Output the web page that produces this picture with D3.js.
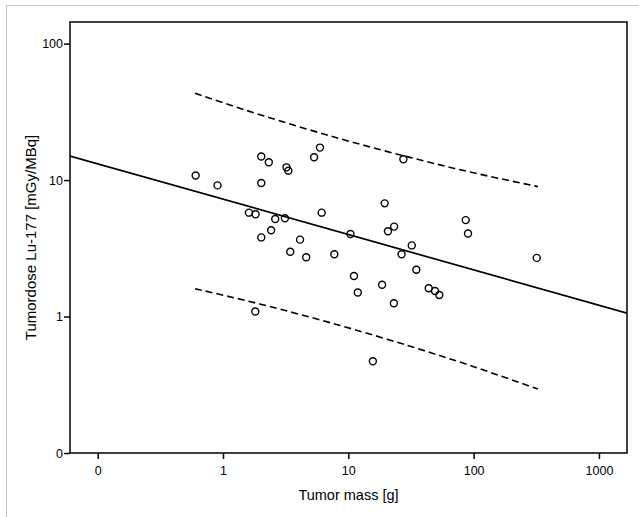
<!DOCTYPE html>
<html>
<head>
<meta charset="utf-8">
<script src="https://cdn.jsdelivr.net/npm/d3@7"></script>
<style>
  body { margin: 0; background: #fff; }
  text { font-family: "Liberation Sans", Arial, sans-serif; fill: #000; }
</style>
</head>
<body>
<svg id="chart" width="639" height="517"></svg>
<script>
// tumor mass [g] vs tumor dose [mGy/MBq]
var massValues = [0.605, 0.904, 2.02, 2.32, 3.21, 3.32, 2.02, 1.61, 1.82, 2.61,
                  3.12, 2.42, 2.02, 4.12, 3.44, 4.61, 5.33, 5.94, 27.5, 19.5,
                  6.13, 10.4, 20.7, 23.2, 32.1, 26.6, 7.73, 86.5, 90.2, 319,
                  11.1, 11.9, 18.6, 23.1, 34.9, 43.8, 49.2, 53.2, 15.7, 1.81];
var doseValues = [10.8, 9.14, 14.9, 13.5, 12.4, 11.7, 9.53, 5.77, 5.62, 5.19,
                  5.25, 4.29, 3.80, 3.66, 2.98, 2.72, 14.7, 17.3, 14.2, 6.75,
                  5.77, 4.03, 4.22, 4.56, 3.32, 2.86, 2.86, 5.09, 4.06, 2.69,
                  1.98, 1.50, 1.71, 1.25, 2.20, 1.61, 1.54, 1.44, 0.470, 1.09];

// regression line end points (read at the plot edges)
var fitMass = [0.0601, 1675];
var fitDose = [15.0, 1.06];

// prediction interval (dashed), sampled along the curve
var bandMass  = [0.598, 2.0, 8.6, 31.6, 100, 326];
var bandUpper = [43.2, 30.0, 20.1, 14.6, 11.3, 8.95];
var bandLower = [1.60, 1.23, 0.86, 0.603, 0.429, 0.294];

var xTickValues = [0.1, 1, 10, 100, 1000];
var xTickLabels = ["0", "1", "10", "100", "1000"];
var yTickValues = [0.1, 1, 10, 100];
var yTickLabels = ["0", "1", "10", "100"];

var svg = d3.select("#chart");
var plotL = 70, plotR = 627, plotT = 22, plotB = 453;

// outer light frame
svg.append("path")
    .attr("d", "M6.5,517V5.5H639")
    .attr("fill", "none")
    .attr("stroke", "#c4c4c4")
    .attr("stroke-width", 1);

var x = d3.scaleLog().domain([0.0601, 1675]).range([plotL, plotR]);
var y = d3.scaleLog().domain([0.1, 144]).range([plotB, plotT]);

var g = svg.append("g");

// plot frame
g.append("rect")
    .attr("x", plotL).attr("y", plotT)
    .attr("width", plotR - plotL).attr("height", plotB - plotT)
    .attr("fill", "none")
    .attr("stroke", "#000")
    .attr("stroke-width", 1.5);

var xAxis = d3.axisBottom(x)
    .tickValues(xTickValues)
    .tickSize(6)
    .tickFormat(function(d, i) { return xTickLabels[i]; });
var yAxis = d3.axisLeft(y)
    .tickValues(yTickValues)
    .tickSize(6)
    .tickFormat(function(d, i) { return yTickLabels[i]; });

var gx = g.append("g").attr("transform", "translate(0," + plotB + ")").call(xAxis);
var gy = g.append("g").attr("transform", "translate(" + plotL + ",0)").call(yAxis);
[gx, gy].forEach(function(a) {
    a.select(".domain").remove();
    a.selectAll(".tick line").attr("stroke", "#000").attr("stroke-width", 1.5);
    a.selectAll(".tick text")
        .style("font-family", "'Liberation Sans', Arial, sans-serif")
        .style("font-size", "12.5px")
        .attr("fill", "#000");
});
gx.selectAll(".tick text").attr("y", 10).attr("dy", "0.95em");
gy.selectAll(".tick text").attr("x", -7);

// clip for the lines
svg.append("clipPath").attr("id", "plotclip")
    .append("rect")
    .attr("x", plotL).attr("y", plotT)
    .attr("width", plotR - plotL).attr("height", plotB - plotT);

var lineGen = d3.line()
    .x(function(d) { return x(d[0]); })
    .y(function(d) { return y(d[1]); });

g.append("path")
    .datum(d3.zip(fitMass, fitDose))
    .attr("clip-path", "url(#plotclip)")
    .attr("d", lineGen)
    .attr("fill", "none")
    .attr("stroke", "#000")
    .attr("stroke-width", 1.7);

var bandLine = d3.line()
    .x(function(d) { return x(d[0]); })
    .y(function(d) { return y(d[1]); })
    .curve(d3.curveNatural);

[bandUpper, bandLower].forEach(function(vals) {
    g.append("path")
        .datum(d3.zip(bandMass, vals))
        .attr("d", bandLine)
        .attr("fill", "none")
        .attr("stroke", "#000")
        .attr("stroke-width", 1.6)
        .attr("stroke-dasharray", "7,4");
});

g.selectAll("circle.pt")
    .data(d3.zip(massValues, doseValues))
    .enter()
    .append("circle")
    .attr("class", "pt")
    .attr("cx", function(d) { return x(d[0]); })
    .attr("cy", function(d) { return y(d[1]); })
    .attr("r", 3.5)
    .attr("fill", "none")
    .attr("stroke", "#000")
    .attr("stroke-width", 1.4);

// axis titles
svg.append("text")
    .attr("x", (plotL + plotR) / 2)
    .attr("y", 500)
    .attr("text-anchor", "middle")
    .style("font-size", "14.5px")
    .text("Tumor mass [g]");

svg.append("text")
    .attr("transform", "translate(36," + (plotT + plotB) / 2 + ") rotate(-90)")
    .attr("text-anchor", "middle")
    .style("font-size", "15px")
    .text("Tumordose Lu-177 [mGy/MBq]");
</script>
</body>
</html>
